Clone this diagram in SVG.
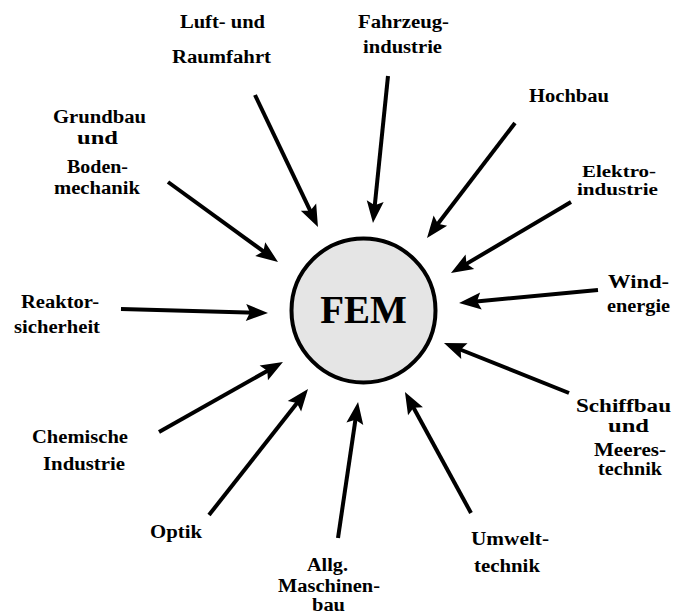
<svg xmlns="http://www.w3.org/2000/svg" width="673" height="615" viewBox="0 0 673 615">
<defs>
<style>
.lbl{font-family:"Liberation Serif","Times New Roman",serif;font-weight:bold;font-size:18px;fill:#000}
.sm{font-size:17px}
.fem{font-family:"Liberation Serif","Times New Roman",serif;font-weight:bold;font-size:39px;fill:#000}
.arr{stroke:#000;stroke-width:4;fill:none;marker-end:url(#ah)}
</style>
<marker id="ah" markerUnits="userSpaceOnUse" markerWidth="30" markerHeight="24" refX="10" refY="0" viewBox="-2 -12 30 24" orient="auto">
<path d="M0,-8.5 L22,0 L0,8.5 L4,0 Z" fill="#000"/>
</marker>
</defs>
<rect width="673" height="615" fill="#fff"/>
<g id="connectors">
<path class="arr" d="M255,95 L312.8,216.2"/>
<path class="arr" d="M388,76 L374.2,211.1"/>
<path class="arr" d="M515,123 L434.3,228.5"/>
<path class="arr" d="M571,202 L461.3,266.9"/>
<path class="arr" d="M598,290 L471,301.9"/>
<path class="arr" d="M569,393 L455.1,347.5"/>
<path class="arr" d="M471,513 L410.7,402.5"/>
<path class="arr" d="M338,538 L356.3,413.9"/>
<path class="arr" d="M209,515 L300.6,398.4"/>
<path class="arr" d="M159,432 L272.5,367.9"/>
<path class="arr" d="M121,309 L256,312.7"/>
<path class="arr" d="M168,182 L268.3,254.9"/>
</g>
<g id="fem">
<circle cx="363.5" cy="310.5" r="72" fill="#e5e5e5" stroke="#000" stroke-width="4"/>
<text class="fem" x="363.5" y="323" text-anchor="middle">FEM</text>
</g>
<g id="luft">
<text class="lbl" x="180" y="28" textLength="85" lengthAdjust="spacingAndGlyphs">Luft- und</text>
<text class="lbl" x="172" y="63" textLength="99" lengthAdjust="spacingAndGlyphs">Raumfahrt</text>
</g>
<g id="fahrzeug">
<text class="lbl" x="358" y="28" textLength="91" lengthAdjust="spacingAndGlyphs">Fahrzeug-</text>
<text class="lbl" x="363" y="53" textLength="79" lengthAdjust="spacingAndGlyphs">industrie</text>
</g>
<g id="hochbau">
<text class="lbl" x="529" y="102" textLength="80" lengthAdjust="spacingAndGlyphs">Hochbau</text>
</g>
<g id="grundbau">
<text class="lbl" x="53" y="123" textLength="93" lengthAdjust="spacingAndGlyphs">Grundbau</text>
<text class="lbl" x="77" y="144" textLength="41" lengthAdjust="spacingAndGlyphs">und</text>
<text class="lbl" x="67" y="173" textLength="61" lengthAdjust="spacingAndGlyphs">Boden-</text>
<text class="lbl" x="54" y="194" textLength="86" lengthAdjust="spacingAndGlyphs">mechanik</text>
</g>
<g id="elektro">
<text class="lbl sm" x="582" y="177" textLength="74" lengthAdjust="spacingAndGlyphs">Elektro-</text>
<text class="lbl sm" x="577" y="195" textLength="81" lengthAdjust="spacingAndGlyphs">industrie</text>
</g>
<g id="reaktor">
<text class="lbl" x="21" y="308" textLength="78" lengthAdjust="spacingAndGlyphs">Reaktor-</text>
<text class="lbl" x="14" y="333" textLength="86" lengthAdjust="spacingAndGlyphs">sicherheit</text>
</g>
<g id="wind">
<text class="lbl" x="608" y="288" textLength="61" lengthAdjust="spacingAndGlyphs">Wind-</text>
<text class="lbl" x="607" y="312" textLength="63" lengthAdjust="spacingAndGlyphs">energie</text>
</g>
<g id="schiffbau">
<text class="lbl" x="576" y="412" textLength="95" lengthAdjust="spacingAndGlyphs">Schiffbau</text>
<text class="lbl" x="608" y="432" textLength="41" lengthAdjust="spacingAndGlyphs">und</text>
<text class="lbl" x="594" y="456" textLength="72" lengthAdjust="spacingAndGlyphs">Meeres-</text>
<text class="lbl" x="598" y="475" textLength="64" lengthAdjust="spacingAndGlyphs">technik</text>
</g>
<g id="chemische">
<text class="lbl" x="32" y="443" textLength="96" lengthAdjust="spacingAndGlyphs">Chemische</text>
<text class="lbl" x="43" y="470" textLength="82" lengthAdjust="spacingAndGlyphs">Industrie</text>
</g>
<g id="optik">
<text class="lbl" x="150" y="538" textLength="52" lengthAdjust="spacingAndGlyphs">Optik</text>
</g>
<g id="umwelt">
<text class="lbl" x="471" y="545" textLength="78" lengthAdjust="spacingAndGlyphs">Umwelt-</text>
<text class="lbl" x="474" y="572" textLength="66" lengthAdjust="spacingAndGlyphs">technik</text>
</g>
<g id="maschinenbau">
<text class="lbl" x="307" y="571" textLength="41" lengthAdjust="spacingAndGlyphs">Allg.</text>
<text class="lbl" x="278" y="592" textLength="102" lengthAdjust="spacingAndGlyphs">Maschinen-</text>
<text class="lbl" x="312" y="611" textLength="33" lengthAdjust="spacingAndGlyphs">bau</text>
</g>
</svg>
